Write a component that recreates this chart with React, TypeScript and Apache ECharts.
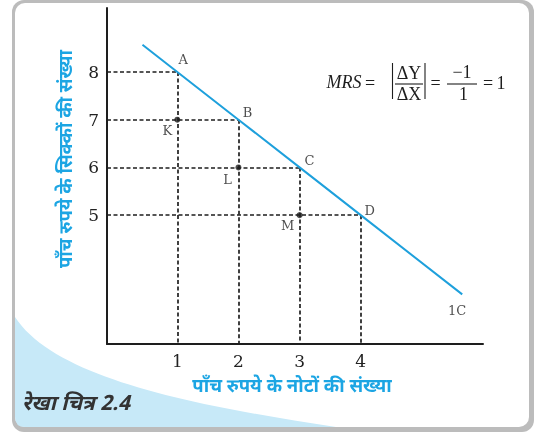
import React, { useRef, useEffect } from "react";
import * as echarts from "echarts";

// ---- data ----
const xTicks = [1, 2, 3, 4];
const yTicks = [5, 6, 7, 8];
const pointNames = ["A", "B", "C", "D"];
const pointX = [1, 2, 3, 4];
const pointY = [8, 7, 6, 5];
const innerNames = ["K", "L", "M"];
const innerX = [1, 2, 3];
const innerY = [7, 6, 5];
const curveStart = [0.43, 8.57];
const curveEnd = [5.66, 3.34];
const curveName = "1C";
const xTitle = "पाँच रुपये के नोटों की संख्या";
const yTitle = "पाँच रुपये के सिक्कों की संख्या";
const caption = "रेखा चित्र 2.4";

const X_MIN = -0.15;
const X_MAX = 6.0;
const Y_MIN = 2.3;
const Y_MAX = 9.34;

const pointOffsets = [[6, -12], [9, -7], [10, -7], [9, -5]];
const innerOffsets = [[-10, 11], [-11, 12], [-12, 10]];

let waveRegistered = false;
function registerWave() {
  if (waveRegistered) return;
  waveRegistered = true;
  const d = "M15,317 C55,378 190,405 336,427 L25,427 Q15,427 15,417 Z";
  echarts.graphic.registerShape("bluewave2", (echarts.graphic as any).extendPath(d, {}));
}

const SERIF = '"DejaVu Serif", serif';
const TIMES = '"Liberation Serif", serif';
const HINDI = '"Noto Sans Devanagari", "Noto Sans", sans-serif';
const BLUE = "#1ca5e3";
const INK = "#1e1e1e";

export default function App() {
  const ref = useRef<HTMLDivElement>(null);
  useEffect(() => {
    if (!ref.current) return;
    registerWave();
    const chart = echarts.init(ref.current, undefined, { renderer: "svg" });

    const dashData: any[] = [];
    for (let i = 0; i < pointX.length; i++) {
      dashData.push({ coords: [[X_MIN, pointY[i]], [pointX[i], pointY[i]]] });
      dashData.push({ coords: [[pointX[i], pointY[i]], [pointX[i], Y_MIN]] });
    }

    const mainLine = [curveStart, ...pointX.map((x, i) => [x, pointY[i]]), curveEnd];

    const txt = (text: string, x: number, y: number, font: string, extra: any = {}) => ({
      type: "text",
      x,
      y,
      silent: true,
      z: 50,
      style: { text, font, fill: INK, align: "center", verticalAlign: "middle", ...extra },
    });
    const ln = (x1: number, y1: number, x2: number, y2: number) => ({
      type: "line",
      silent: true,
      z: 50,
      shape: { x1, y1, x2, y2 },
      style: { stroke: INK, lineWidth: 1.1 },
    });

    const option: any = {
      animation: false,
      grid: { left: 107, top: 8, right: 53, bottom: 88, containLabel: false },
      xAxis: {
        type: "value",
        min: X_MIN,
        max: X_MAX,
        axisLine: { show: true, onZero: false, lineStyle: { color: INK, width: 2 } },
        axisTick: { show: false },
        splitLine: { show: false },
        axisLabel: { customValues: xTicks, color: "#222", fontFamily: SERIF, fontSize: 17, margin: 8 },
      },
      yAxis: {
        type: "value",
        min: Y_MIN,
        max: Y_MAX,
        axisLine: { show: true, onZero: false, lineStyle: { color: INK, width: 2 } },
        axisTick: { show: false },
        splitLine: { show: false },
        axisLabel: { customValues: yTicks, color: "#222", fontFamily: SERIF, fontSize: 17, margin: 8 },
      },
      series: [
        {
          type: "lines",
          coordinateSystem: "cartesian2d",
          data: dashData,
          silent: true,
          z: 3,
          lineStyle: { color: INK, width: 1.7, type: [4, 2.5], opacity: 1 },
        },
        {
          type: "line",
          data: mainLine,
          symbol: "none",
          silent: true,
          z: 4,
          lineStyle: { color: "#1ea0dc", width: 2 },
        },
        {
          type: "scatter",
          symbolSize: 6,
          silent: true,
          z: 5,
          itemStyle: { color: INK },
          data: innerNames.map((n, i) => ({
            name: n,
            value: [innerX[i], innerY[i]],
            label: {
              show: true,
              formatter: n,
              position: [innerOffsets[i][0] + 3, innerOffsets[i][1] + 3],
              align: "center",
              verticalAlign: "middle",
              color: INK,
              fontFamily: SERIF,
              fontSize: 13,
            },
          })),
        },
        {
          type: "scatter",
          symbolSize: 0,
          silent: true,
          z: 5,
          itemStyle: { color: "rgba(0,0,0,0)" },
          data: [
            ...pointNames.map((n, i) => ({
              name: n,
              value: [pointX[i], pointY[i]],
              label: {
                show: true,
                formatter: n,
                position: pointOffsets[i],
                align: "center",
                verticalAlign: "middle",
                color: INK,
                fontFamily: SERIF,
                fontSize: 13,
              },
            })),
            {
              name: curveName,
              value: curveEnd,
              label: {
                show: true,
                formatter: curveName,
                position: [-5, 16],
                align: "center",
                verticalAlign: "middle",
                color: INK,
                fontFamily: SERIF,
                fontSize: 13,
              },
            },
          ],
        },
      ],
      graphic: [
        { type: "rect", silent: true, z: -30, shape: { x: 12, y: 0, width: 522, height: 432, r: 12 }, style: { fill: "#bcbcbc" } },
        { type: "rect", silent: true, z: -29, shape: { x: 15, y: 3, width: 514, height: 424, r: 10 }, style: { fill: "#ffffff" } },
        { type: "bluewave2", silent: true, z: -28, x: 0, y: 0, style: { fill: "#c7e9f8" } },
        {
          type: "text", silent: true, z: 50, x: 67, y: 159, rotation: Math.PI / 2,
          style: { text: yTitle, font: `bold 18.5px ${HINDI}`, fill: BLUE, align: "center", verticalAlign: "middle" },
        },
        {
          type: "text", silent: true, z: 50, x: 292, y: 387,
          style: { text: xTitle, font: `bold 18.5px ${HINDI}`, fill: BLUE, align: "center", verticalAlign: "middle" },
        },
        {
          type: "text", silent: true, z: 50, x: 22, y: 405,
          style: { text: caption, font: `italic bold 21px ${HINDI}`, fill: "#333", align: "left", verticalAlign: "middle" },
        },
        txt("MRS", 344, 82, `italic 18px ${TIMES}`),
        txt("=", 370, 83, `18px ${TIMES}`),
        ln(392.5, 63, 392.5, 99),
        txt("ΔY", 409, 73, `18px ${TIMES}`),
        ln(395, 84, 423, 84),
        txt("ΔX", 409, 94, `18px ${TIMES}`),
        ln(425, 63, 425, 99),
        txt("=", 435.5, 83, `18px ${TIMES}`),
        txt("−1", 462, 72, `18px ${TIMES}`),
        ln(447, 84, 477, 84),
        txt("1", 463.5, 94, `18px ${TIMES}`),
        txt("=", 488, 83, `18px ${TIMES}`),
        txt("1", 501, 83, `18px ${TIMES}`),
      ],
    };
    chart.setOption(option);
    return () => chart.dispose();
  }, []);
  return (
    <div
      ref={ref}
      style={{ position: "fixed", left: 0, top: 0, width: 536, height: 432 }}
    />
  );
}
